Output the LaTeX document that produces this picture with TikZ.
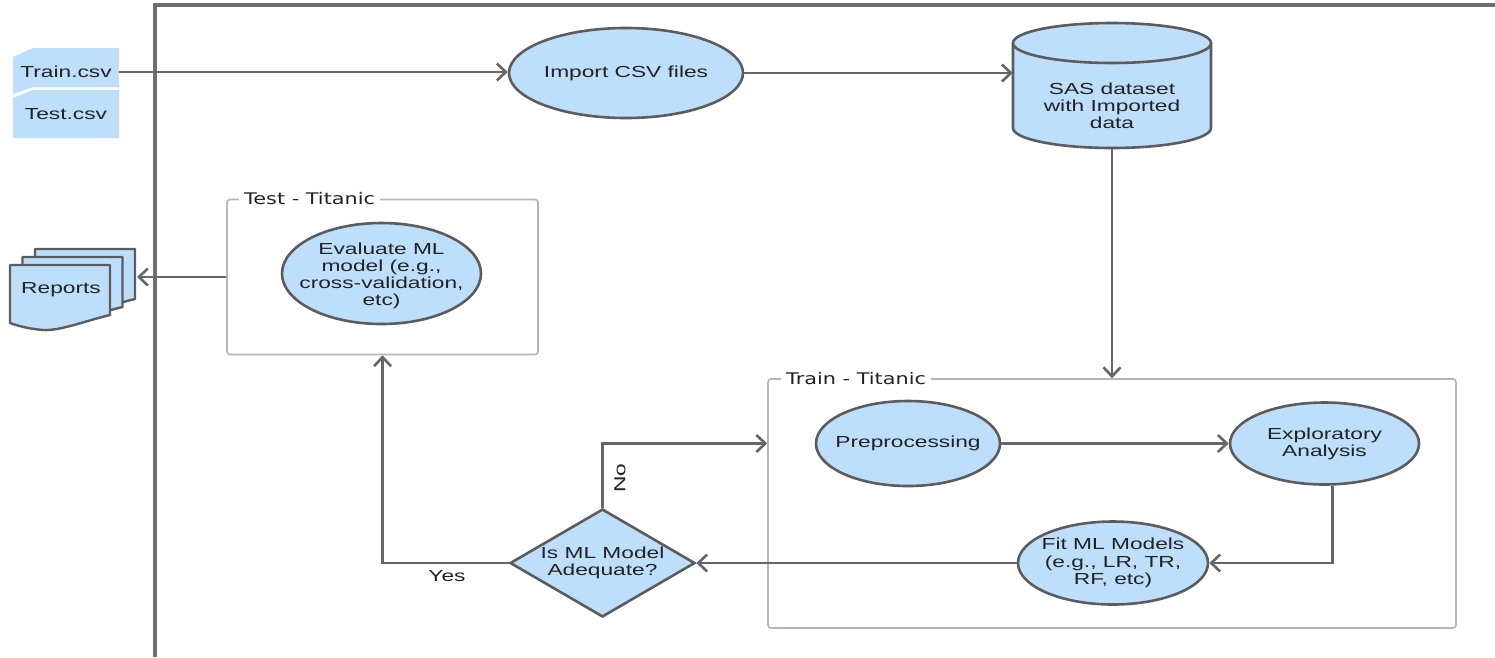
\documentclass[tikz,border=0pt]{standalone}
\usepackage{fontspec}
\setmainfont{Liberation Sans}[FakeStretch=1.42]
\newfontfamily\lblfont{DejaVu Sans}[FakeStretch=1.3]
\usetikzlibrary{shapes.geometric,arrows.meta}
\definecolor{fillblue}{HTML}{BDDFFB}
\definecolor{edgec}{HTML}{5C5C5C}
\definecolor{linec}{HTML}{666666}
\definecolor{framec}{HTML}{6E6E6E}
\definecolor{boxc}{HTML}{B9B5AA}
\definecolor{txt}{HTML}{222222}
\begin{document}
\begin{tikzpicture}[x=1pt,y=-1pt,
  maintext/.style={text=txt,align=center,font=\fontsize{16}{17.2}\selectfont},
  proc/.style={ellipse,draw=edgec,fill=fillblue,line width=2.6pt,inner sep=0pt},
  flow/.style={draw=linec,line width=2.6pt,-{Straight Barb[length=9pt,width=17pt,line width=2.6pt]}},
  container/.style={draw=boxc,line width=1.6pt,rounded corners=3pt,inner sep=0pt},
  boxlabel/.style={fill=white,text=txt,inner xsep=5pt,inner ysep=2pt,anchor=west,font=\lblfont\fontsize{16}{18}\selectfont},
  docshape/.style={draw=edgec,fill=fillblue,line width=2.4pt,line join=round}
]
\useasboundingbox (0,0) rectangle (1495,657);
\fill[white] (0,0) rectangle (1495,657);

% outer frame
\draw[draw=framec,line width=4pt] (155,657) -- (155,4.5) -- (1495,4.5);

% input tags
\fill[fillblue] (13,57) -- (33,48) -- (119,48) -- (119,87) -- (33,87) -- (13,94) -- cycle;
\fill[fillblue] (13,98) -- (33,90) -- (119,90) -- (119,138) -- (13,138) -- cycle;
\node[maintext,minimum width=106pt,inner sep=0pt] (traincsv) at (66,72) {Train.csv};
\node[maintext] (testcsv) at (66,114) {Test.csv};

% reports stack
\foreach \x/\t in {35/249,22.5/257,10/265}{
  \draw[docshape] (\x,\t) -- (\x+100,\t) -- (\x+100,\t+50)
    .. controls (\x+75,\t+56) and (\x+50,\t+66) .. (\x+33,\t+65)
    .. controls (\x+20,\t+64) and (\x+8,\t+61) .. (\x,\t+58) -- cycle;
}
\node[maintext] (reports) at (61,290) {Reports};
\coordinate (repin) at (137,277);

% containers
\node[container,minimum width=311pt,minimum height=155pt] (testbox) at (382.5,277) {};
\node[boxlabel] (testlbl) at (239,199) {Test - Titanic};
\node[container,minimum width=688pt,minimum height=249pt] (trainbox) at (1112,503.5) {};
\node[boxlabel] (trainlbl) at (781,379) {Train - Titanic};

% cylinder
\path[fill=fillblue,draw=edgec,line width=2.6pt] (1013,43) -- (1013,128)
  arc[start angle=180,end angle=0,x radius=99,y radius=20] -- (1211,43);
\path[fill=fillblue,draw=edgec,line width=2.6pt] (1112,43) ellipse[x radius=99,y radius=20];
\node[maintext,minimum width=198pt,inner sep=0pt] (sas) at (1112,106) {SAS dataset\\with Imported\\data};
\coordinate (sasbottom) at (1112,148);

% process ellipses
\node[proc,minimum width=234pt,minimum height=90pt] (import) at (626,73) {};
\node[maintext] (importtxt) at (import.center) {Import CSV files};
\node[proc,minimum width=199pt,minimum height=101pt] (eval) at (381.5,273.5) {};
\node[maintext] (evaltxt) at (381.5,276) {Evaluate ML\\model (e.g.,\\cross-validation,\\etc)};
\node[proc,minimum width=184pt,minimum height=85pt] (pre) at (908,443.5) {};
\node[maintext] (pretxt) at (pre.center) {Preprocessing};
\node[proc,minimum width=189pt,minimum height=82pt] (expl) at (1324.5,443.5) {};
\node[maintext] (expltxt) at (expl.center) {Exploratory\\Analysis};
\node[proc,minimum width=190pt,minimum height=83pt] (fit) at (1113,563) {};
\node[maintext] (fittxt) at (fit.center) {Fit ML Models\\(e.g., LR, TR,\\RF, etc)};
\node[diamond,draw=edgec,fill=fillblue,line width=2.6pt,inner sep=0pt,aspect=1.7,
      minimum width=185pt,minimum height=108pt] (diam) at (602.5,563) {};
\node[maintext] (diamtxt) at (diam.center) {Is ML Model\\Adequate?};

% connectors
\draw[flow] (traincsv.east) -- (traincsv.east -| import.west);
\draw[flow] (import.east) -- (import.east -| sas.west);
\draw[flow] (sasbottom) -- (trainbox.north);
\draw[flow] (pre.east) -- (expl.west);
\draw[flow] ([xshift=8pt]expl.south) |- (fit.east);
\draw[flow] (fit.west) -- (diam.east);
\draw[flow] (diam.north) |- (trainbox.west |- pre.center);
\draw[flow] (diam.west) -| (testbox.south);
\draw[flow] (testbox.west) -- (testbox.west -| repin);

% branch labels
\node[maintext,rotate=90] (nolbl) at (620,478) {No};
\node[maintext] (yeslbl) at (447,576) {Yes};
\end{tikzpicture}
\end{document}
